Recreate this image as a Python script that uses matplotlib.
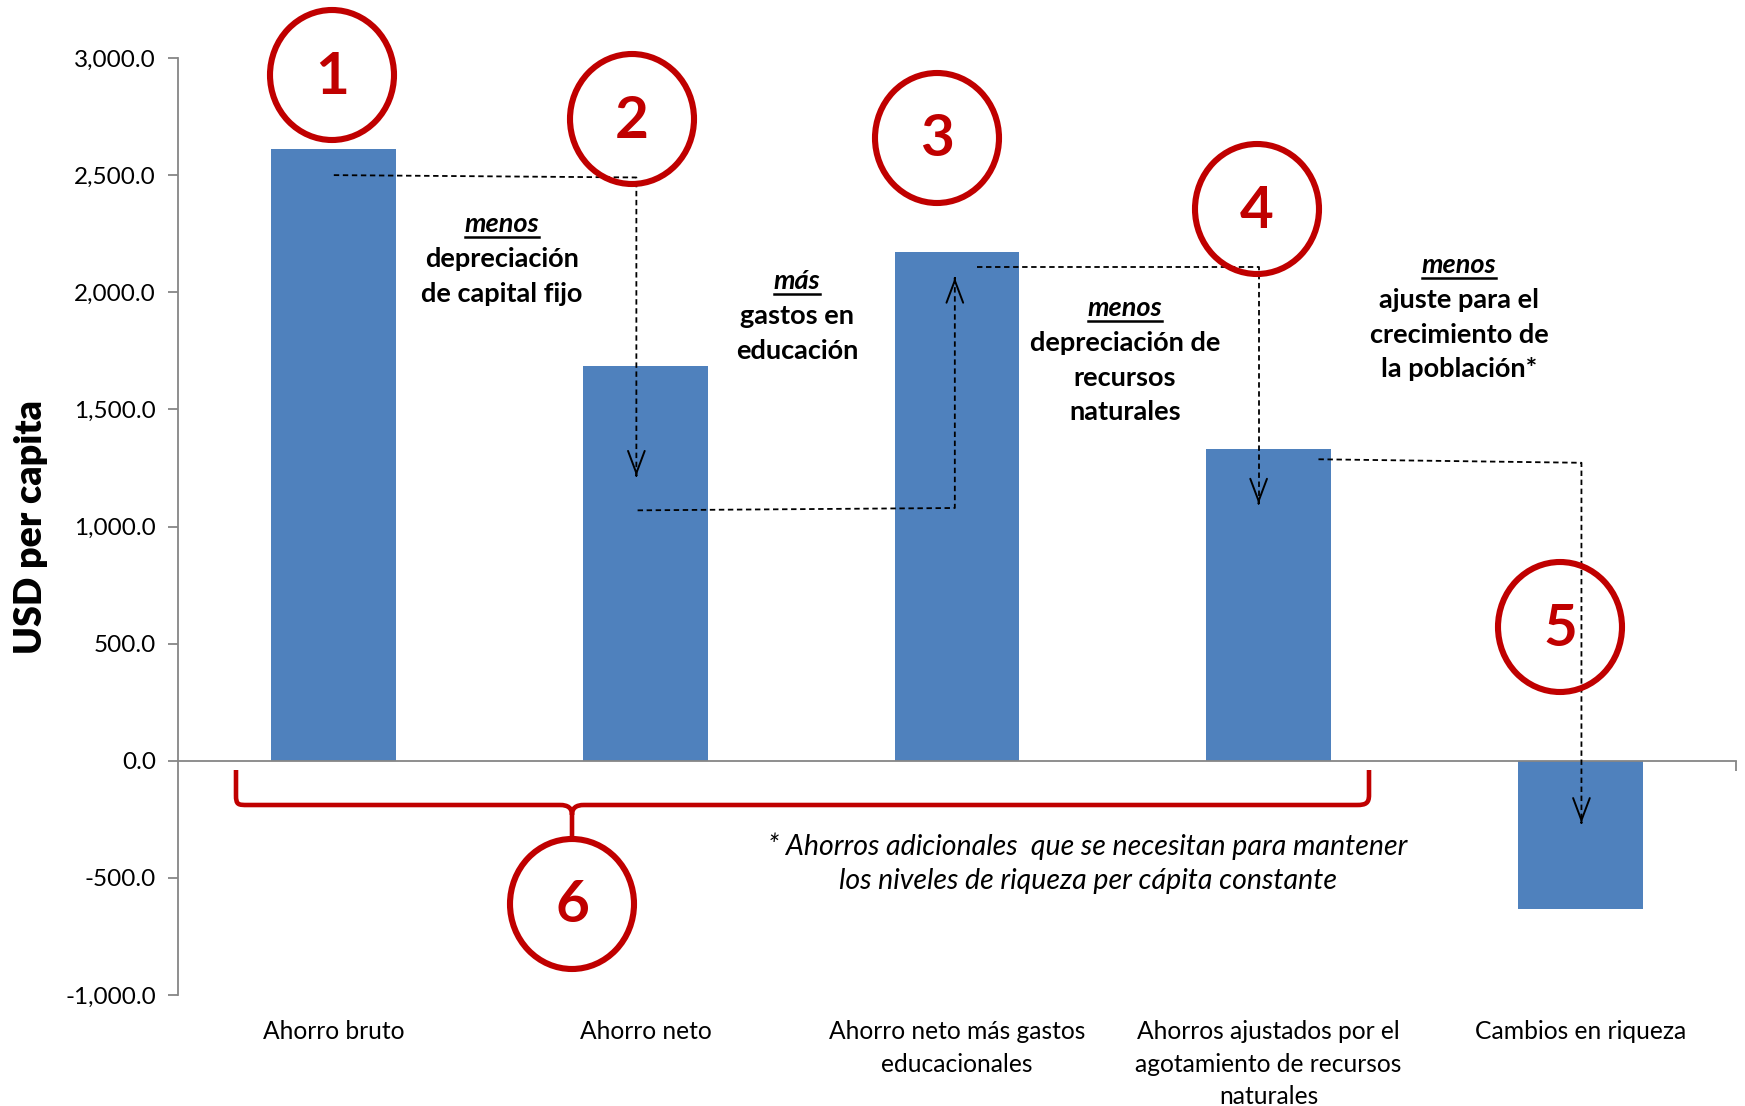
import matplotlib
matplotlib.use("Agg")
import matplotlib.pyplot as plt
import matplotlib.transforms as mtransforms
from matplotlib.patches import Ellipse, PathPatch
from matplotlib.path import Path
from matplotlib.lines import Line2D
from matplotlib.ticker import FuncFormatter

plt.rcParams["font.family"] = ["Lato", "DejaVu Sans"]

# data
categories = ["Ahorro bruto", "Ahorro neto", "Ahorro neto más gastos\neducacionales",
              "Ahorros ajustados por el\nagotamiento de recursos\nnaturales",
              "Cambios en riqueza"]
values = [2610, 1685, 2170, 1330, -635]
y_ticks = [-1000, -500, 0, 500, 1000, 1500, 2000, 2500, 3000]

# dashed connectors between bars (category x, value y)
conn_x0 = [0.0, 0.975, 2.064, 3.16]
conn_x1 = [0.971, 1.993, 2.968, 4.004]
conn_y0 = [2500, 1069, 2109, 1287]
conn_y1 = [2490, 1079, 2109, 1272]
conn_end = [1216, 2062, 1097, -266]

# text blocks: (first word, other lines)
block_head = ["menos", "más", "menos", "menos"]
block_lines = [["depreciación", "de capital fijo"],
               ["gastos en", "educación"],
               ["depreciación de", "recursos", "naturales"],
               ["ajuste para el", "crecimiento de", "la población*"]]
footnote = ["* Ahorros adicionales  que se necesitan para mantener",
            "los niveles de riqueza per cápita constante"]
step_labels = ["1", "2", "3", "4", "5", "6"]

W, H = 1745, 1106
RED = "#C00000"
BLUE = "#4F81BD"
GRAY = "#868686"

fig = plt.figure(figsize=(W / 100, H / 100), dpi=100)
ax = fig.add_axes([178 / W, 1 - 995 / H, (1736 - 178) / W, (995 - 58) / H])
# pixel coords measured from the top-left of the figure
px = mtransforms.Affine2D().scale(1 / W, -1 / H).translate(0, 1) + fig.transFigure

xs = list(range(len(categories)))
ax.bar(xs, values, width=0.4, color=BLUE, zorder=2)
ax.set_xlim(-0.5, 4.5)
ax.set_ylim(-1000, 3000)
ax.set_yticks(y_ticks)
ax.yaxis.set_major_formatter(FuncFormatter(lambda v, p: f"{v:,.1f}"))
for s in ["top", "right"]:
    ax.spines[s].set_visible(False)
ax.spines["left"].set_color(GRAY)
ax.spines["left"].set_linewidth(1.3)
ax.spines["bottom"].set_color(GRAY)
ax.spines["bottom"].set_linewidth(1.3)
ax.spines["bottom"].set_position(("data", 0))
ax.set_xticks([4.5])
ax.set_xticklabels([])
ax.tick_params(axis="x", length=7, color=GRAY, width=1.3)
ax.tick_params(axis="y", length=7, color=GRAY, width=1.3, labelsize=17.5, pad=9)

for x, lab in zip(xs, categories):
    ax.annotate(lab, xy=(x, 0), xycoords=("data", "axes fraction"),
                xytext=(0, -18), textcoords="offset points",
                ha="center", va="top", fontsize=17.7, linespacing=1.5)

fig.text(31, 527, "USD per capita", transform=px, rotation=90, fontsize=27,
         fontweight="heavy", ha="center", va="center")

# dashed connectors with open arrowheads
for x0, x1, y0, y1, ye in zip(conn_x0, conn_x1, conn_y0, conn_y1, conn_end):
    ax.plot([x0, x1, x1], [y0, y1, ye], color="black", lw=1.3,
            linestyle=(0, (3, 2)), zorder=4)
    d = 1 if ye < y1 else -1
    ax.annotate("", xy=(x1, ye), xytext=(x1, ye + d * 2),
                arrowprops=dict(arrowstyle="->,head_width=0.3,head_length=0.8",
                                lw=1.4, color="black", shrinkA=0, shrinkB=0,
                                mutation_scale=20), zorder=4)

# explanatory text
block_x = [502, 797, 1125, 1459]
block_y = [222, 279, 306, 263]
line_gap = 34.8
fig.canvas.draw()
renderer = fig.canvas.get_renderer()
for bx, by, head, lines in zip(block_x, block_y, block_head, block_lines):
    t = fig.text(bx, by, head, transform=px, fontsize=19.5, fontweight="bold",
                 style="italic", ha="center", va="center_baseline")
    bb = t.get_window_extent(renderer)
    uy = bb.y0 - 1
    fig.add_artist(Line2D([bb.x0 / W, bb.x1 / W], [uy / H, uy / H],
                          transform=fig.transFigure, color="black", lw=1.8))
    for k, line in enumerate(lines):
        fig.text(bx, by + (k + 1) * line_gap, line, transform=px, fontsize=19.5,
                 fontweight="bold", ha="center", va="center_baseline")

for k, line in enumerate(footnote):
    fig.text(1088, 844 + k * 34.5, line, transform=px, fontsize=20.5,
             style="italic", ha="center", va="center_baseline")

# numbered circles
circ_x = [332, 632, 937, 1257, 1560, 572]
circ_y = [75, 119, 138, 209, 627, 904]
for cx, cy, lab in zip(circ_x, circ_y, step_labels):
    fig.add_artist(Ellipse((cx, cy), 124, 130, transform=px, fill=False,
                           ec=RED, lw=4.4, zorder=5))
    fig.text(cx, cy + 2, lab, transform=px, fontsize=42, fontweight="bold",
             color=RED, ha="center", va="center", zorder=6)

# brace under the first four bars
verts = [(236, 770), (236, 795), (236, 805), (238, 805), (248, 805),
         (560, 805), (568, 805), (572, 808), (572, 815),
         (572, 838),
         (572, 815), (572, 808), (576, 805), (584, 805),
         (1357, 805), (1366, 805), (1369, 803), (1369, 795), (1369, 770)]
codes = [Path.MOVETO, Path.LINETO, Path.CURVE4, Path.CURVE4, Path.CURVE4,
         Path.LINETO, Path.CURVE4, Path.CURVE4, Path.CURVE4,
         Path.LINETO,
         Path.MOVETO, Path.CURVE4, Path.CURVE4, Path.CURVE4,
         Path.LINETO, Path.CURVE4, Path.CURVE4, Path.CURVE4, Path.LINETO]
fig.add_artist(PathPatch(Path(verts, codes), transform=px, fill=False,
                         ec=RED, lw=3.3, capstyle="butt", joinstyle="round"))

fig.savefig("out.png", dpi=100)
